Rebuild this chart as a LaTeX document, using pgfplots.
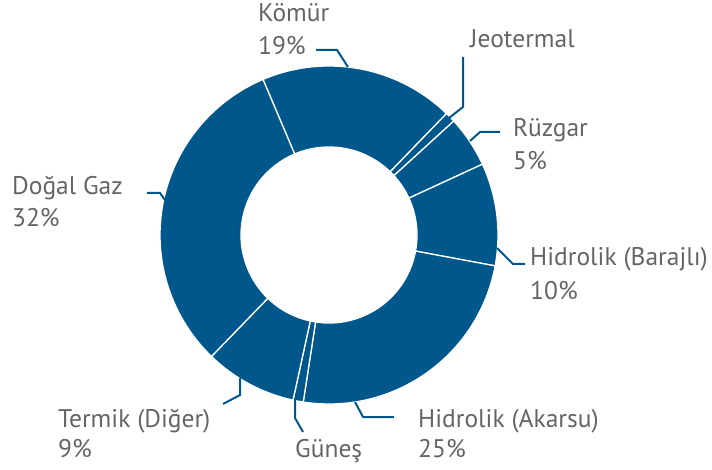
\documentclass[border=0pt]{standalone}
\usepackage{pgfplots}
\pgfplotsset{compat=1.18}
\usepackage{pgfplotstable}
\usepackage{fontspec}
\setmainfont{PT Sans}
\definecolor{donut}{RGB}{0,87,139}
\definecolor{labelgray}{RGB}{100,101,104}

\pgfplotstableread{
source value
Komur 19
Jeotermal 1
Ruzgar 5
Barajli 10
Akarsu 25
Gunes 1
Termik 9
DogalGaz 32
}\shares

\begin{document}
% cumulative angles (clockwise, starting at 113 degrees)
\def\curang{113}%
\pgfplotstableforeachcolumnelement{value}\of\shares\as\v{%
  \pgfmathsetmacro\nextang{\curang-\v*360/102}%
  \expandafter\xdef\csname sa\pgfplotstablerow\endcsname{\curang}%
  \expandafter\xdef\csname ea\pgfplotstablerow\endcsname{\nextang}%
  \xdef\curang{\nextang}%
}%
\begin{tikzpicture}
\begin{axis}[
  width=712pt, height=469pt, scale only axis,
  xmin=0, xmax=712, ymin=0, ymax=469,
  hide axis, clip=false,
  at={(0,0)}, anchor=south west,
]
\pgfplotsinvokeforeach{0,...,7}{
  \fill[donut, draw=white, line width=1.3pt]
    ([shift={(axis cs:329,234)}]\csname sa#1\endcsname:169pt)
    arc[start angle=\csname sa#1\endcsname, end angle=\csname ea#1\endcsname, radius=169pt]
    -- ([shift={(axis cs:329,234)}]\csname ea#1\endcsname:88pt)
    arc[start angle=\csname ea#1\endcsname, end angle=\csname sa#1\endcsname, radius=88pt]
    -- cycle;
}
% leader lines
\begin{scope}[donut, line width=2pt]
\draw (axis cs:316,419) -- (axis cs:337,419) -- (axis cs:348,402);
\draw (axis cs:463,412) -- (axis cs:463,362) -- (axis cs:449,351);
\draw (axis cs:500,337) -- (axis cs:480,337) -- (axis cs:470,328);
\draw (axis cs:147,276) -- (axis cs:160,276) -- (axis cs:165,269);
\draw (axis cs:525,205) -- (axis cs:513,205) -- (axis cs:497,221);
\draw (axis cs:223,65) -- (axis cs:240,74) -- (axis cs:240,91);
\draw (axis cs:303,37) -- (axis cs:295,51) -- (axis cs:295,71);
\draw (axis cs:394,52) -- (axis cs:363,52) -- (axis cs:355,67);
\end{scope}
% labels
\begin{scope}[every node/.style={anchor=base west, inner sep=0pt, text=labelgray, font=\fontsize{25.5}{28}\selectfont}]
\node at (axis cs:258,447) {Kömür};
\node at (axis cs:258,414) {19\%};
\node at (axis cs:470,421) {Jeotermal};
\node at (axis cs:513,332) {Rüzgar};
\node at (axis cs:513,299) {5\%};
\node at (axis cs:12,274) {Doğal Gaz};
\node at (axis cs:12,242) {32\%};
\node at (axis cs:530,204) {Hidrolik (Barajlı)};
\node at (axis cs:530,169) {10\%};
\node at (axis cs:58,42) {Termik (Diğer)};
\node at (axis cs:58,12) {9\%};
\node at (axis cs:295,12) {Güneş};
\node at (axis cs:418,42) {Hidrolik (Akarsu)};
\node at (axis cs:418,12) {25\%};
\end{scope}
\end{axis}
\pgfresetboundingbox
\path[use as bounding box] (0,0) rectangle (712pt,469pt);
\end{tikzpicture}
\end{document}
